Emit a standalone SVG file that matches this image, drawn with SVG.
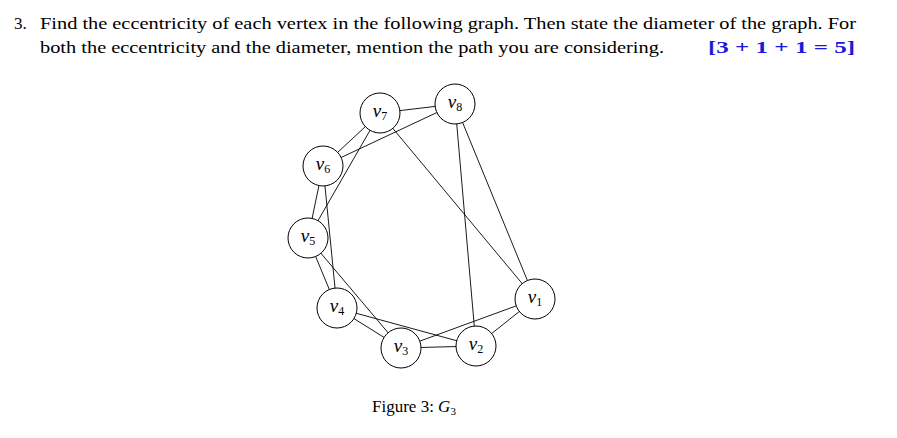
<svg xmlns="http://www.w3.org/2000/svg" width="897" height="438" viewBox="0 0 897 438">
<style>
text{font-family:"Liberation Serif",serif;font-size:17px;fill:#000}
.n circle{fill:#fff;stroke:#000;stroke-width:1}
.n text{font-style:italic;text-anchor:middle;font-size:19px}
.n text tspan{font-size:12px;font-style:normal}
#edges line{stroke:#000;stroke-width:0.9}
</style>
<rect width="897" height="438" fill="#fff"/>
<text x="14" y="29">3.</text>
<text x="40" y="29" textLength="816" lengthAdjust="spacingAndGlyphs">Find the eccentricity of each vertex in the following graph. Then state the diameter of the graph. For</text>
<text x="40" y="53" textLength="624" lengthAdjust="spacingAndGlyphs">both the eccentricity and the diameter, mention the path you are considering.</text>
<text x="708" y="53" style="fill:#1a1adc;font-weight:bold" textLength="147" lengthAdjust="spacingAndGlyphs">[3 + 1 + 1 = 5]</text>
<g id="edges">
<line x1="380" y1="113" x2="455" y2="104"/>
<line x1="455" y1="104" x2="323" y2="166"/>
<line x1="380" y1="113" x2="323" y2="166"/>
<line x1="380" y1="113" x2="308" y2="238"/>
<line x1="380" y1="113" x2="535" y2="299"/>
<line x1="455" y1="104" x2="476" y2="346"/>
<line x1="455" y1="104" x2="535" y2="299"/>
<line x1="323" y1="166" x2="308" y2="238"/>
<line x1="323" y1="166" x2="337" y2="308"/>
<line x1="308" y1="238" x2="337" y2="308"/>
<line x1="308" y1="238" x2="401" y2="348"/>
<line x1="337" y1="308" x2="401" y2="348"/>
<line x1="337" y1="308" x2="476" y2="346"/>
<line x1="401" y1="348" x2="476" y2="346"/>
<line x1="401" y1="348" x2="535" y2="299"/>
<line x1="476" y1="346" x2="535" y2="299"/>
</g>
<g id="v1" class="n"><circle cx="535" cy="299" r="20"/><text x="535" y="303">v<tspan dy="3">1</tspan></text></g>
<g id="v2" class="n"><circle cx="476" cy="346" r="20"/><text x="476" y="350">v<tspan dy="3">2</tspan></text></g>
<g id="v3" class="n"><circle cx="401" cy="348" r="20"/><text x="401" y="352">v<tspan dy="3">3</tspan></text></g>
<g id="v4" class="n"><circle cx="337" cy="308" r="20"/><text x="337" y="312">v<tspan dy="3">4</tspan></text></g>
<g id="v5" class="n"><circle cx="308" cy="238" r="20"/><text x="308" y="242">v<tspan dy="3">5</tspan></text></g>
<g id="v6" class="n"><circle cx="323" cy="166" r="20"/><text x="323" y="170">v<tspan dy="3">6</tspan></text></g>
<g id="v7" class="n"><circle cx="380" cy="113" r="20"/><text x="380" y="117">v<tspan dy="3">7</tspan></text></g>
<g id="v8" class="n"><circle cx="455" cy="104" r="20"/><text x="455" y="108">v<tspan dy="3">8</tspan></text></g>
<text x="372" y="412">Figure 3: <tspan font-style="italic">G</tspan><tspan font-size="11" dy="3">3</tspan></text>
</svg>
